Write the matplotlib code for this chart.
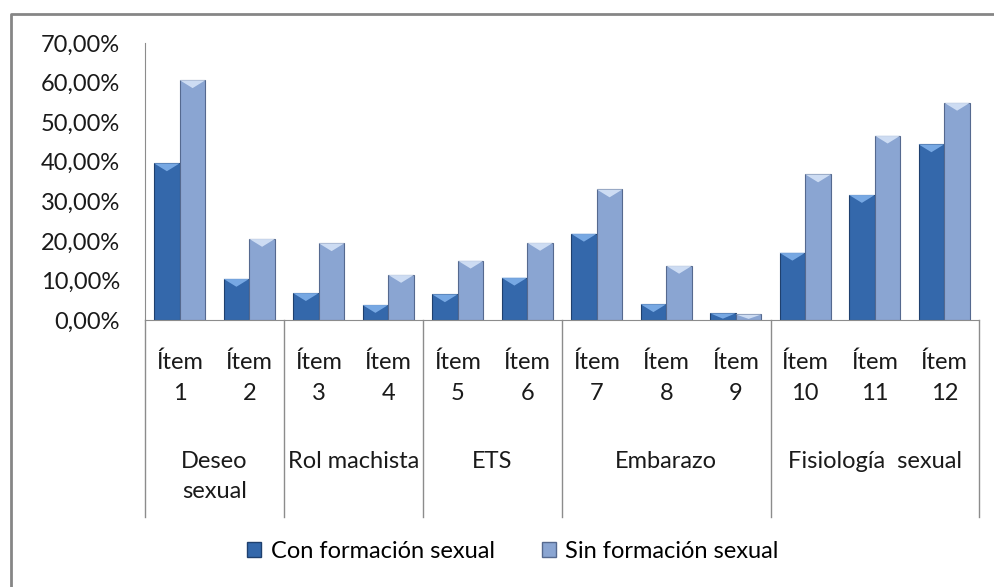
import numpy as np
import matplotlib.pyplot as plt
from matplotlib.patches import Patch, Polygon
import matplotlib.lines as mlines
from matplotlib.ticker import FuncFormatter
import matplotlib.transforms as mtransforms

plt.rcParams['font.family'] = ['Lato', 'DejaVu Sans']

items = ['Ítem\n1', 'Ítem\n2', 'Ítem\n3', 'Ítem\n4', 'Ítem\n5', 'Ítem\n6',
         'Ítem\n7', 'Ítem\n8', 'Ítem\n9', 'Ítem\n10', 'Ítem\n11', 'Ítem\n12']
con = [0.396, 0.104, 0.068, 0.038, 0.065, 0.107, 0.218, 0.040, 0.017, 0.170, 0.316, 0.444]
sin = [0.606, 0.205, 0.194, 0.114, 0.150, 0.195, 0.330, 0.137, 0.014, 0.368, 0.466, 0.549]
groups = ['Deseo\nsexual', 'Rol machista', 'ETS', 'Embarazo', 'Fisiología  sexual']
group_sizes = [2, 2, 2, 3, 3]
series = ['Con formación sexual', 'Sin formación sexual']

W, H = 994, 587
fs = 17
tc = '#1a1a1a'
fig = plt.figure(figsize=(W / 100, H / 100), dpi=100)
# outer frame (only top and left edges fall inside the picture)
fig.lines.append(mlines.Line2D([10.5 / W, 10.5 / W, 1.0], [0.0, 1 - 13.5 / H, 1 - 13.5 / H],
                               transform=fig.transFigure, color='#868686', linewidth=2))

ax = fig.add_axes([145 / W, 1 - 320 / H, (979 - 145) / W, (320 - 43) / H])
x = np.arange(len(items))
bw = 0.37
c_con, e_con, t_con = '#3468ab', '#1f406e', '#7fb0ea'
c_sin, e_sin, t_sin = '#8aa5d2', '#55698f', '#d5e3f7'
b1 = ax.bar(x - bw / 2, con, bw, color=c_con, edgecolor=e_con, linewidth=0.8)
b2 = ax.bar(x + bw / 2, sin, bw, color=c_sin, edgecolor=e_sin, linewidth=0.8)

# bevel highlight on top of each bar
for bars, hc in ((b1, t_con), (b2, t_sin)):
    for b in bars:
        bx, bwid, bh = b.get_x(), b.get_width(), b.get_height()
        d = min(0.02, bh * 0.8)
        ax.add_patch(Polygon([(bx, bh), (bx + bwid, bh), (bx + bwid / 2, bh - d)],
                             closed=True, facecolor=hc, edgecolor='none', alpha=0.9))

ax.set_xlim(-0.5, len(items) - 0.5)
ax.set_ylim(0, 0.70)
ax.set_yticks(np.arange(0, 0.71, 0.1))
ax.yaxis.set_major_formatter(FuncFormatter(lambda v, p: f'{v * 100:.2f}%'.replace('.', ',')))
ax.tick_params(axis='y', length=0, pad=18, labelsize=fs, labelcolor=tc)
ax.set_xticks(x)
ax.set_xticklabels(items, fontsize=fs, color=tc, linespacing=1.55)
ax.tick_params(axis='x', length=0, pad=23)
for s in ('top', 'right'):
    ax.spines[s].set_visible(False)
ax.spines['left'].set_color('#8c8c8c')
ax.spines['bottom'].set_color('#8c8c8c')

# group separators and group labels
trans = mtransforms.blended_transform_factory(ax.transData, ax.transAxes)
ybot = -(517 - 320) / (320 - 43)
bounds = np.concatenate([[0], np.cumsum(group_sizes)]) - 0.5
for b in bounds:
    ax.plot([b, b], [0, ybot], color='#8c8c8c', linewidth=1, transform=trans, clip_on=False)
ylab = -(451 - 320) / (320 - 43)
for g, lo, hi in zip(groups, bounds[:-1], bounds[1:]):
    ax.text((lo + hi) / 2, ylab, g, transform=trans, ha='center', va='top',
            fontsize=fs, color=tc, linespacing=1.55)

handles = [Patch(facecolor=c_con, edgecolor=e_con), Patch(facecolor=c_sin, edgecolor=e_sin)]
fig.legend(handles, series, loc='center', bbox_to_anchor=(0.516, 1 - 551 / H), ncol=2,
           frameon=False, fontsize=fs, handlelength=0.6, handleheight=0.6,
           handletextpad=0.4, columnspacing=2.0)

fig.savefig('out.png', dpi=100)
